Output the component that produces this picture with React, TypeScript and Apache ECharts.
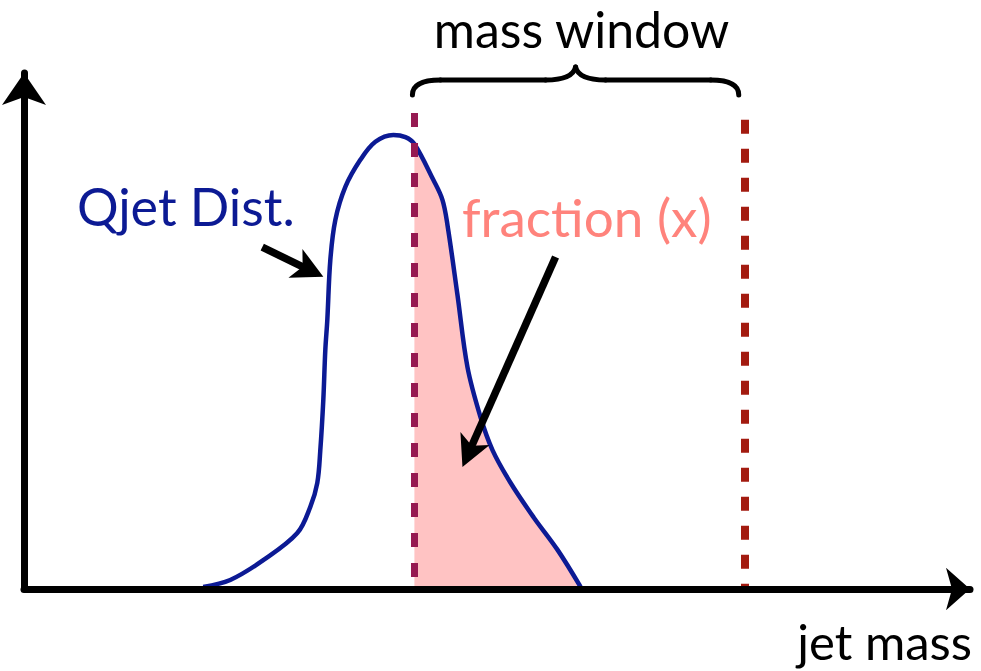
import { useEffect, useRef } from "react";
import * as echarts from "echarts";

// Axis ranges (jet mass in arbitrary units, density normalised)
const massAxisMax = 189;
const densityAxisMax = 1.2;

// Qjet mass distribution sampled along the curve
const curveMass = [
  35.8, 41.2, 47.8, 54.6, 57.2, 58.6, 59.2, 59.8, 60.2, 60.6, 61.2, 62.2, 64.2,
  67.2, 70.2, 73.8, 76.2, 78.0, 81.8, 83.6, 84.6, 86.6, 88.6, 91.2, 93.6, 97.2,
  101.8, 106.6, 111.2,
];
const curveDensity = [
  0.005, 0.021, 0.067, 0.13, 0.191, 0.247, 0.323, 0.44, 0.556, 0.626, 0.765,
  0.858, 0.935, 0.998, 1.04, 1.056, 1.051, 1.035, 0.951, 0.905, 0.847, 0.684,
  0.516, 0.4, 0.323, 0.247, 0.167, 0.091, 0.005,
];

// Mass window edges and the heights of their dashed markers
const windowLow = 78;
const windowHigh = 144;
const windowLowTop = 1.107;
const windowHighTop = 1.091;

// Annotation arrows: [tail, tip] in (mass, density)
const qjetArrow = [
  [47.6, 0.795],
  [59.8, 0.726],
];
const fractionArrow = [
  [106.2, 0.772],
  [87.6, 0.284],
];

const FONT = "Lato, 'Open Sans', sans-serif";
const BLUE = "#0c1a94";
const PINK_FILL = "#ffc3c3";
const PINK_TEXT = "#ff837c";
const LOW_EDGE = "#961a52";
const HIGH_EDGE = "#a31b10";

function arrowElements(tail: number[], tip: number[]) {
  const headLen = 31;
  const headHalf = 16;
  const notch = 8;
  const dx = tip[0] - tail[0];
  const dy = tip[1] - tail[1];
  const len = Math.hypot(dx, dy);
  const ux = dx / len;
  const uy = dy / len;
  const nx = -uy;
  const ny = ux;
  const bx = tip[0] - ux * headLen;
  const by = tip[1] - uy * headLen;
  const kx = tip[0] - ux * (headLen - notch);
  const ky = tip[1] - uy * (headLen - notch);
  return [
    {
      type: "line",
      shape: { x1: tail[0], y1: tail[1], x2: kx + ux * 3, y2: ky + uy * 3 },
      style: { stroke: "#000", lineWidth: 7.5 },
      z: 20,
    },
    {
      type: "polygon",
      shape: {
        points: [
          [tip[0], tip[1]],
          [bx + nx * headHalf, by + ny * headHalf],
          [kx, ky],
          [bx - nx * headHalf, by - ny * headHalf],
        ],
      },
      style: { fill: "#000" },
      z: 20,
    },
  ];
}

export default function App() {
  const ref = useRef<HTMLDivElement>(null);

  useEffect(() => {
    if (!ref.current) return;
    const chart = echarts.init(ref.current, undefined, { renderer: "svg" });

    const curve = curveMass.map((m, i) => [m, curveDensity[i]]);
    const inWindow = curve.filter((p) => p[0] >= windowLow);

    const axisCommon = {
      type: "value" as const,
      min: 0,
      axisTick: { show: false },
      axisLabel: { show: false },
      splitLine: { show: false },
      z: 10,
    };

    chart.setOption({
      animation: false,
      grid: { left: 24, right: 11, top: 73, bottom: 82 },
      xAxis: {
        ...axisCommon,
        max: massAxisMax,
        axisLine: {
          show: true,
          symbol: ["none", "arrow"],
          symbolSize: [32, 24],
          lineStyle: { color: "#000", width: 7 },
        },
      },
      yAxis: {
        ...axisCommon,
        max: densityAxisMax,
        axisLine: {
          show: true,
          symbol: ["none", "arrow"],
          symbolSize: [33, 32],
          lineStyle: { color: "#000", width: 7 },
        },
      },
      series: [
        {
          name: "fraction",
          type: "line",
          data: inWindow,
          smooth: 0.35,
          showSymbol: false,
          silent: true,
          lineStyle: { width: 0 },
          areaStyle: { color: PINK_FILL, opacity: 1 },
          z: 1,
        },
        {
          name: "window",
          type: "line",
          data: [],
          silent: true,
          z: 2,
          markLine: {
            silent: true,
            symbol: ["none", "none"],
            label: { show: false },
            emphasis: { disabled: true },
            data: [
              [
                {
                  coord: [windowLow, windowLowTop],
                  lineStyle: { color: LOW_EDGE, width: 7, type: [14, 16] },
                },
                { coord: [windowLow, 0] },
              ],
              [
                {
                  coord: [windowHigh, windowHighTop],
                  lineStyle: { color: HIGH_EDGE, width: 8, type: [14, 15] },
                },
                { coord: [windowHigh, 0] },
              ],
            ],
          },
        },
        {
          name: "Qjet Dist.",
          type: "line",
          data: curve,
          smooth: 0.35,
          showSymbol: false,
          silent: true,
          lineStyle: { color: BLUE, width: 4.5 },
          z: 3,
        },
      ],
    });

    const px = (p: number[]) =>
      chart.convertToPixel({ gridIndex: 0 }, p) as number[];

    const lowX = px([windowLow, 0])[0];
    const highX = px([windowHigh, 0])[0];
    const bl = lowX - 2;
    const br = highX - 6;
    const bm = (bl + br) / 2;
    const by = 80;
    const braceStyle = { stroke: "#000", lineWidth: 5, lineCap: "round", fill: "none" };

    chart.setOption({
      graphic: [
        // brace over the mass window
        { type: "bezierCurve", shape: { x1: bl, y1: 95, x2: bl + 28, y2: by, cpx1: bl, cpy1: by }, style: braceStyle, z: 20 },
        { type: "line", shape: { x1: bl + 28, y1: by, x2: bm - 30, y2: by }, style: braceStyle, z: 20 },
        { type: "bezierCurve", shape: { x1: bm - 30, y1: by, x2: bm, y2: 67, cpx1: bm - 3, cpy1: by }, style: braceStyle, z: 20 },
        { type: "bezierCurve", shape: { x1: bm, y1: 67, x2: bm + 30, y2: by, cpx1: bm + 3, cpy1: by }, style: braceStyle, z: 20 },
        { type: "line", shape: { x1: bm + 30, y1: by, x2: br - 28, y2: by }, style: braceStyle, z: 20 },
        { type: "bezierCurve", shape: { x1: br - 28, y1: by, x2: br, y2: 95, cpx1: br, cpy1: by }, style: braceStyle, z: 20 },
        ...arrowElements(px(qjetArrow[0]), px(qjetArrow[1])),
        ...arrowElements(px(fractionArrow[0]), px(fractionArrow[1])),
        {
          type: "text",
          x: bm + 6,
          y: 29,
          style: { text: "mass window", font: `50px ${FONT}`, fill: "#000", align: "center", verticalAlign: "middle" },
          z: 20,
        },
        {
          type: "text",
          x: 77,
          y: 206,
          style: { text: "Qjet Dist.", font: `52px ${FONT}`, fill: BLUE, align: "left", verticalAlign: "middle" },
          z: 20,
        },
        {
          type: "text",
          x: 462,
          y: 216,
          style: { text: "fraction (x)", font: `53px ${FONT}`, fill: PINK_TEXT, align: "left", verticalAlign: "middle" },
          z: 20,
        },
        {
          type: "text",
          x: 972,
          y: 641,
          style: { text: "jet mass", font: `49px ${FONT}`, fill: "#000", align: "right", verticalAlign: "middle" },
          z: 20,
        },
      ],
    });

    return () => chart.dispose();
  }, []);

  return (
    <div
      ref={ref}
      style={{ position: "absolute", left: 0, top: 0, width: 981, height: 671, background: "#fff" }}
    />
  );
}
